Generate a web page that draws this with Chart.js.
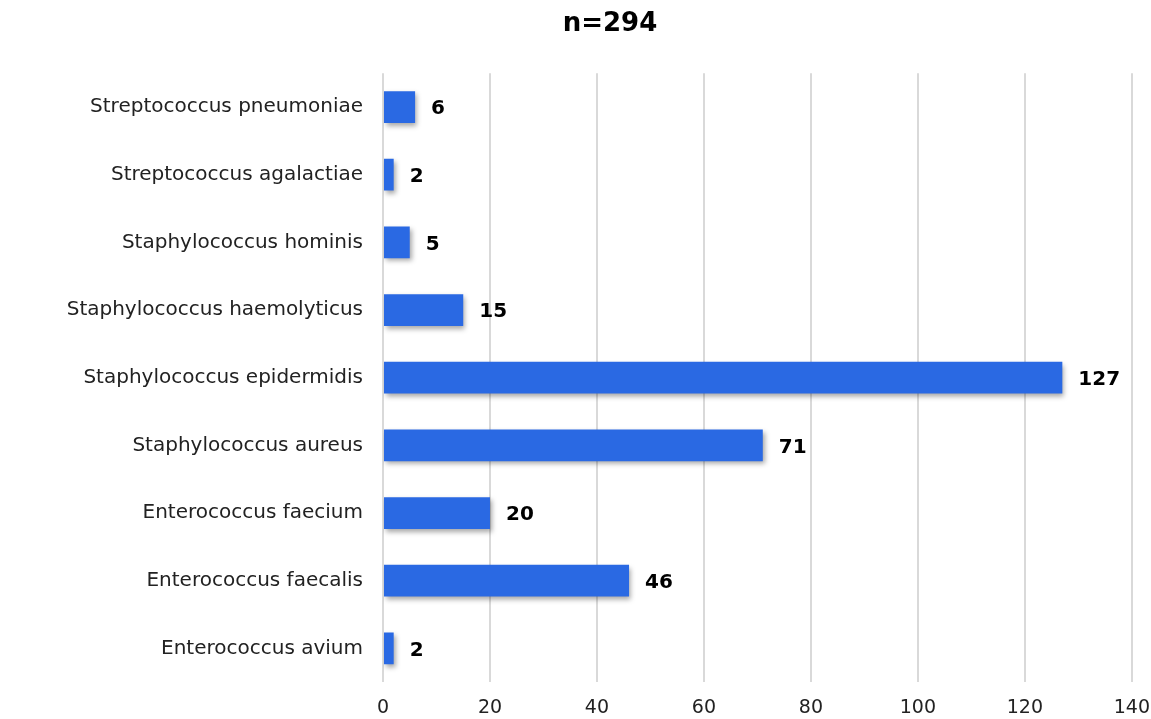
<!DOCTYPE html>
<html>
<head>
<meta charset="utf-8">
<script src="https://cdn.jsdelivr.net/npm/chart.js@4"></script>
<style>
  html, body { margin: 0; padding: 0; background: #fff; overflow: hidden; }
  #wrap { width: 1164px; height: 733px; }
</style>
</head>
<body>
<div id="wrap"><canvas id="c"></canvas></div>
<script>
// ── Datos ───────────────────────────────────────────────────────────────
const chartTitle = 'n=294';
const species = [
  'Streptococcus pneumoniae',
  'Streptococcus agalactiae',
  'Staphylococcus hominis',
  'Staphylococcus haemolyticus',
  'Staphylococcus epidermidis',
  'Staphylococcus aureus',
  'Enterococcus faecium',
  'Enterococcus faecalis',
  'Enterococcus avium'
];
const counts = [6, 2, 5, 15, 127, 71, 20, 46, 2];
const xMax = 140;
const xStep = 20;

const FONT = '"DejaVu Sans", sans-serif';
const PAD_LEFT = 56;

// sombra de las barras
const barShadow = {
  id: 'barShadow',
  beforeDatasetsDraw(chart) {
    const ctx = chart.ctx;
    ctx.save();
    ctx.shadowColor = 'rgba(0,0,0,0.35)';
    ctx.shadowBlur = 5;
    ctx.shadowOffsetX = 2;
    ctx.shadowOffsetY = 3;
  },
  afterDatasetsDraw(chart) { chart.ctx.restore(); }
};

// etiquetas de valor
const valueLabels = {
  id: 'valueLabels',
  afterDraw(chart) {
    const ctx = chart.ctx;
    const meta = chart.getDatasetMeta(0);
    ctx.save();
    ctx.font = 'bold 20px ' + FONT;
    ctx.fillStyle = '#000';
    ctx.textAlign = 'left';
    ctx.textBaseline = 'middle';
    meta.data.forEach((bar, i) => {
      ctx.fillText(String(counts[i]), bar.x + 16, bar.y + 2);
    });
    ctx.restore();
  }
};

new Chart(document.getElementById('c'), {
  type: 'bar',
  data: {
    labels: species,
    datasets: [{
      data: counts,
      backgroundColor: '#2a69e3',
      borderWidth: 0,
      barPercentage: 0.47,
      categoryPercentage: 1.0
    }]
  },
  plugins: [barShadow, valueLabels],
  options: {
    indexAxis: 'y',
    responsive: true,
    maintainAspectRatio: false,
    animation: false,
    layout: { padding: { left: PAD_LEFT, right: 0, top: 5, bottom: 0 } },
    plugins: {
      legend: { display: false },
      tooltip: { enabled: false },
      title: {
        display: true,
        text: chartTitle,
        color: '#000',
        font: { family: FONT, size: 26, weight: 'bold' },
        padding: { top: 4, bottom: 33 }
      }
    },
    scales: {
      x: {
        min: 0, max: xMax,
        ticks: { stepSize: xStep, color: '#222', font: { family: FONT, size: 19 }, padding: 14 },
        grid: { color: '#d9d9d9', lineWidth: 2, drawTicks: false },
        border: { display: false }
      },
      y: {
        ticks: { color: '#222', font: { family: FONT, size: 20 }, padding: 20 },
        grid: { display: false, drawTicks: false },
        border: { display: false },
        afterFit(scale) { scale.width = 383 - PAD_LEFT; }
      }
    }
  }
});
</script>
</body>
</html>
